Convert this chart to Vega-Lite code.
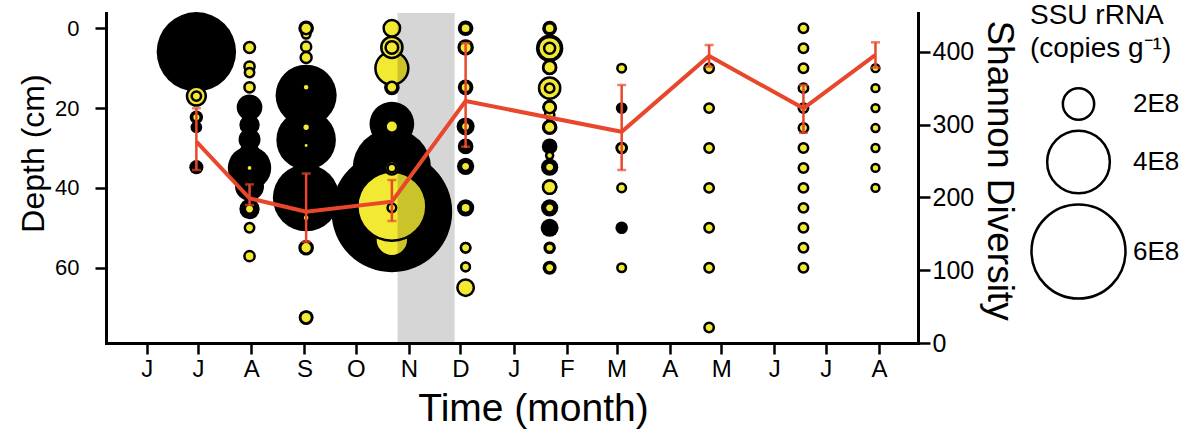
{
  "$schema": "https://vega.github.io/schema/vega-lite/v6.json",
  "width": 812,
  "height": 330,
  "autosize": {"type": "none"},
  "padding": {"left": 106, "top": 13, "right": 261, "bottom": 90},
  "background": "white",
  "config": {
    "view": {"stroke": null},
    "font": "Liberation Sans",
    "axis": {"grid": false, "domainColor": "black", "domainWidth": 3, "tickColor": "black", "tickWidth": 2.5, "labelColor": "black", "titleColor": "black", "labelFont": "Liberation Sans", "titleFont": "Liberation Sans", "titleFontWeight": "normal", "domainCap": "square"}
  },
  "datasets": {
    "bubbles": [
      {"day":29,"depth":5.9,"series":"S1","copies_1e8":5.07},
      {"day":29,"depth":22.3,"series":"S1","copies_1e8":0.85},
      {"day":29,"depth":24.8,"series":"S1","copies_1e8":0.75},
      {"day":29,"depth":34.8,"series":"S1","copies_1e8":0.9},
      {"day":60,"depth":19.8,"series":"S1","copies_1e8":1.64},
      {"day":60,"depth":24.2,"series":"S1","copies_1e8":1.3},
      {"day":60,"depth":27.9,"series":"S1","copies_1e8":1.4},
      {"day":60,"depth":31.5,"series":"S1","copies_1e8":1.4},
      {"day":60,"depth":35,"series":"S1","copies_1e8":2.77},
      {"day":60,"depth":39.6,"series":"S1","copies_1e8":1.85},
      {"day":60,"depth":45.3,"series":"S1","copies_1e8":1.3},
      {"day":93,"depth":0,"series":"S1","copies_1e8":1.0},
      {"day":93,"depth":16.8,"series":"S1","copies_1e8":3.9},
      {"day":93,"depth":28,"series":"S1","copies_1e8":3.8},
      {"day":93,"depth":42.5,"series":"S1","copies_1e8":4.25},
      {"day":93,"depth":55,"series":"S1","copies_1e8":1.0},
      {"day":93,"depth":72.5,"series":"S1","copies_1e8":0.95},
      {"day":143,"depth":14.8,"series":"S1","copies_1e8":1.0},
      {"day":143,"depth":24,"series":"S1","copies_1e8":2.85},
      {"day":143,"depth":35,"series":"S1","copies_1e8":5.0},
      {"day":143,"depth":46,"series":"S1","copies_1e8":7.7},
      {"day":186,"depth":0,"series":"S1","copies_1e8":1.0},
      {"day":186,"depth":4.8,"series":"S1","copies_1e8":1.05},
      {"day":186,"depth":14.8,"series":"S1","copies_1e8":1.0},
      {"day":186,"depth":24.6,"series":"S1","copies_1e8":1.15},
      {"day":186,"depth":29.6,"series":"S1","copies_1e8":1.0},
      {"day":186,"depth":34.6,"series":"S1","copies_1e8":1.1},
      {"day":186,"depth":45,"series":"S1","copies_1e8":1.1},
      {"day":186,"depth":55,"series":"S1","copies_1e8":0.75},
      {"day":186,"depth":59.8,"series":"S1","copies_1e8":0.7},
      {"day":235,"depth":0,"series":"S1","copies_1e8":0.95},
      {"day":235,"depth":5,"series":"S1","copies_1e8":1.75},
      {"day":235,"depth":9.8,"series":"S1","copies_1e8":1.0},
      {"day":235,"depth":19.8,"series":"S1","copies_1e8":0.95},
      {"day":235,"depth":24.8,"series":"S1","copies_1e8":1.0},
      {"day":235,"depth":29.6,"series":"S1","copies_1e8":1.0},
      {"day":235,"depth":34.8,"series":"S1","copies_1e8":1.1},
      {"day":235,"depth":39.8,"series":"S1","copies_1e8":1.0},
      {"day":235,"depth":45,"series":"S1","copies_1e8":1.1},
      {"day":235,"depth":50,"series":"S1","copies_1e8":1.15},
      {"day":235,"depth":55,"series":"S1","copies_1e8":0.8},
      {"day":235,"depth":60,"series":"S1","copies_1e8":0.9},
      {"day":277,"depth":20,"series":"S1","copies_1e8":0.75},
      {"day":277,"depth":30,"series":"S1","copies_1e8":0.8},
      {"day":277,"depth":50,"series":"S1","copies_1e8":0.8},

      {"day":29,"depth":17,"series":"S2","copies_1e8":1.2},
      {"day":29,"depth":17,"series":"S2","copies_1e8":0.6},
      {"day":29,"depth":22.3,"series":"S2","copies_1e8":0.55},
      {"day":60,"depth":4.8,"series":"S2","copies_1e8":0.7},
      {"day":60,"depth":9.6,"series":"S2","copies_1e8":0.65},
      {"day":60,"depth":11.1,"series":"S2","copies_1e8":0.6},
      {"day":60,"depth":14.8,"series":"S2","copies_1e8":0.65},
      {"day":60,"depth":35,"series":"S2","copies_1e8":0.4},
      {"day":60,"depth":45.3,"series":"S2","copies_1e8":0.6},
      {"day":60,"depth":50,"series":"S2","copies_1e8":0.6},
      {"day":60,"depth":57.1,"series":"S2","copies_1e8":0.65},
      {"day":93,"depth":1.5,"series":"S2","copies_1e8":0.55},
      {"day":93,"depth":0,"series":"S2","copies_1e8":0.75},
      {"day":93,"depth":4.6,"series":"S2","copies_1e8":0.65},
      {"day":93,"depth":7.3,"series":"S2","copies_1e8":0.7},
      {"day":93,"depth":14.8,"series":"S2","copies_1e8":0.45},
      {"day":93,"depth":24.8,"series":"S2","copies_1e8":0.5},
      {"day":93,"depth":29.4,"series":"S2","copies_1e8":0.35},
      {"day":93,"depth":47.5,"series":"S2","copies_1e8":0.45},
      {"day":93,"depth":55,"series":"S2","copies_1e8":0.75},
      {"day":93,"depth":72.5,"series":"S2","copies_1e8":0.75},
      {"day":143,"depth":53,"series":"S2","copies_1e8":2.1},
      {"day":143,"depth":44.6,"series":"S2","copies_1e8":4.4},
      {"day":143,"depth":10,"series":"S2","copies_1e8":2.1},
      {"day":143,"depth":4.8,"series":"S2","copies_1e8":1.35},
      {"day":143,"depth":4.8,"series":"S2","copies_1e8":0.8},
      {"day":143,"depth":0,"series":"S2","copies_1e8":1.05},
      {"day":143,"depth":14.8,"series":"S2","copies_1e8":0.7},
      {"day":143,"depth":24.6,"series":"S2","copies_1e8":0.8},
      {"day":143,"depth":35,"series":"S2","copies_1e8":0.85},
      {"day":143,"depth":35,"series":"S2","copies_1e8":0.55},
      {"day":143,"depth":45,"series":"S2","copies_1e8":0.55},
      {"day":186,"depth":0,"series":"S2","copies_1e8":0.65},
      {"day":186,"depth":4.8,"series":"S2","copies_1e8":0.8},
      {"day":186,"depth":14.8,"series":"S2","copies_1e8":0.65},
      {"day":186,"depth":24.6,"series":"S2","copies_1e8":0.6},
      {"day":186,"depth":29.6,"series":"S2","copies_1e8":0.35},
      {"day":186,"depth":34.6,"series":"S2","copies_1e8":0.6},
      {"day":186,"depth":45,"series":"S2","copies_1e8":0.65},
      {"day":186,"depth":55,"series":"S2","copies_1e8":0.6},
      {"day":186,"depth":59.8,"series":"S2","copies_1e8":0.55},
      {"day":186,"depth":65,"series":"S2","copies_1e8":1.05},
      {"day":235,"depth":0,"series":"S2","copies_1e8":0.65},
      {"day":235,"depth":5,"series":"S2","copies_1e8":1.45},
      {"day":235,"depth":5,"series":"S2","copies_1e8":0.7},
      {"day":235,"depth":9.8,"series":"S2","copies_1e8":0.8},
      {"day":235,"depth":15,"series":"S2","copies_1e8":1.35},
      {"day":235,"depth":15,"series":"S2","copies_1e8":0.6},
      {"day":235,"depth":21.7,"series":"S2","copies_1e8":0.6},
      {"day":235,"depth":19.8,"series":"S2","copies_1e8":0.75},
      {"day":235,"depth":24.8,"series":"S2","copies_1e8":0.75},
      {"day":235,"depth":31.9,"series":"S2","copies_1e8":0.45},
      {"day":235,"depth":34.8,"series":"S2","copies_1e8":0.6},
      {"day":235,"depth":39.8,"series":"S2","copies_1e8":0.85},
      {"day":235,"depth":45,"series":"S2","copies_1e8":0.6},
      {"day":235,"depth":55,"series":"S2","copies_1e8":0.55},
      {"day":235,"depth":60,"series":"S2","copies_1e8":0.6},
      {"day":277,"depth":10,"series":"S2","copies_1e8":0.55},
      {"day":277,"depth":30,"series":"S2","copies_1e8":0.6},
      {"day":277,"depth":40,"series":"S2","copies_1e8":0.55},
      {"day":277,"depth":60,"series":"S2","copies_1e8":0.55},
      {"day":328,"depth":10,"series":"S2","copies_1e8":0.6},
      {"day":328,"depth":20,"series":"S2","copies_1e8":0.6},
      {"day":328,"depth":30,"series":"S2","copies_1e8":0.6},
      {"day":328,"depth":40,"series":"S2","copies_1e8":0.6},
      {"day":328,"depth":50,"series":"S2","copies_1e8":0.6},
      {"day":328,"depth":60,"series":"S2","copies_1e8":0.6},
      {"day":328,"depth":75,"series":"S2","copies_1e8":0.6},
      {"day":383,"depth":0,"series":"S2","copies_1e8":0.6},
      {"day":383,"depth":5,"series":"S2","copies_1e8":0.6},
      {"day":383,"depth":10,"series":"S2","copies_1e8":0.6},
      {"day":383,"depth":15,"series":"S2","copies_1e8":0.6},
      {"day":383,"depth":20,"series":"S2","copies_1e8":0.6},
      {"day":383,"depth":25,"series":"S2","copies_1e8":0.6},
      {"day":383,"depth":30,"series":"S2","copies_1e8":0.6},
      {"day":383,"depth":35,"series":"S2","copies_1e8":0.6},
      {"day":383,"depth":40,"series":"S2","copies_1e8":0.6},
      {"day":383,"depth":45,"series":"S2","copies_1e8":0.6},
      {"day":383,"depth":50,"series":"S2","copies_1e8":0.6},
      {"day":383,"depth":55,"series":"S2","copies_1e8":0.6},
      {"day":383,"depth":60,"series":"S2","copies_1e8":0.6},
      {"day":425,"depth":10,"series":"S2","copies_1e8":0.5},
      {"day":425,"depth":15,"series":"S2","copies_1e8":0.5},
      {"day":425,"depth":20,"series":"S2","copies_1e8":0.5},
      {"day":425,"depth":25,"series":"S2","copies_1e8":0.5},
      {"day":425,"depth":30,"series":"S2","copies_1e8":0.5},
      {"day":425,"depth":35,"series":"S2","copies_1e8":0.5},
      {"day":425,"depth":40,"series":"S2","copies_1e8":0.5}
    ],
    "shannon": [
      {"day":29,"shannon":276.7,"lo":237.8,"hi":322.6},
      {"day":60,"shannon":198.9,"lo":189.7,"hi":218},
      {"day":93,"shannon":180.5,"lo":139.2,"hi":233},
      {"day":143,"shannon":194.2,"lo":167.7,"hi":224},
      {"day":186,"shannon":332.6,"lo":269.8,"hi":412},
      {"day":277,"shannon":290.4,"lo":237.8,"hi":354.6},
      {"day":328,"shannon":394.5,"lo":379.4,"hi":409.6},
      {"day":383,"shannon":322.6,"lo":289,"hi":354.6},
      {"day":425,"shannon":395.9,"lo":378.5,"hi":413.3}
    ],
    "band": [{"start":146.3,"end":179.6}]
  },
  "layer": [
    {
      "layer": [
        {
          "data": {"name": "bubbles"},
          "mark": {"type": "point", "shape": "circle", "filled": false, "stroke": "black", "strokeWidth": 2.5, "opacity": 0},
          "encoding": {
            "x": {"field": "day", "type": "quantitative", "scale": {"domain": [-23.7, 449.8], "nice": false, "zero": false},
                  "axis": {"values": [0,30,61,92,122,153,183,214,245,274,305,335,366,396,427], "labelExpr": "['J','J','A','S','O','N','D','J','F','M','A','M','J','J','A'][indexof([0,30,61,92,122,153,183,214,245,274,305,335,366,396,427], datum.value)]", "tickSize": 11, "labelPadding": 3, "labelFontSize": 24, "title": "Time (month)", "titleFontSize": 39, "titlePadding": 8, "titleX": 427}},
            "y": {"field": "depth", "type": "quantitative", "scale": {"domain": [-3.83, 78.87], "reverse": true, "nice": false, "zero": false},
                  "axis": {"values": [0,20,40,60], "tickSize": 11, "labelPadding": 16, "labelFontSize": 22, "title": "Depth (cm)", "titleFontSize": 32, "titlePadding": 4, "titleY": 140}},
            "size": {"field": "copies_1e8", "type": "quantitative", "scale": {"type": "pow", "exponent": 2, "domain": [0, 6], "range": [0, 8836], "clamp": false},
                     "legend": {"orient": "none", "legendX": 924, "legendY": -11, "padding": 0, "title": ["SSU rRNA", "(copies g⁻¹)"], "titleFontSize": 28, "titleFontWeight": "normal", "titleFont": "Liberation Sans", "titleColor": "black", "titleLineHeight": 33, "titlePadding": 24, "labelFontSize": 26, "labelFont": "Liberation Sans", "labelColor": "black", "labelOffset": 6, "rowPadding": 0, "values": [2, 4, 6], "labelExpr": "datum.value + 'E8'", "symbolType": "circle", "symbolStrokeWidth": 2.5, "symbolStrokeColor": "black", "symbolFillColor": "transparent", "symbolOpacity": 1}}
          }
        },
        {
          "data": {"name": "bubbles"},
          "transform": [{"filter": "datum.series === 'S1'"}],
          "mark": {"type": "circle", "color": "black", "opacity": 1},
          "encoding": {
            "x": {"field": "day", "type": "quantitative", "title": "Time (month)"},
            "y": {"field": "depth", "type": "quantitative", "title": "Depth (cm)"},
            "size": {"field": "copies_1e8", "type": "quantitative", "legend": null}
          }
        },
        {
          "data": {"name": "bubbles"},
          "transform": [{"filter": "datum.series === 'S2'"}],
          "mark": {"type": "circle", "fill": "#f2e933", "stroke": "black", "strokeWidth": 2.5, "opacity": 1},
          "encoding": {
            "x": {"field": "day", "type": "quantitative", "title": "Time (month)"},
            "y": {"field": "depth", "type": "quantitative", "title": "Depth (cm)"},
            "size": {"field": "copies_1e8", "type": "quantitative", "legend": null}
          }
        },
        {
          "data": {"name": "band"},
          "mark": {"type": "rect", "color": "black", "opacity": 0.16},
          "encoding": {
            "x": {"field": "start", "type": "quantitative", "title": "Time (month)"},
            "x2": {"field": "end"}
          }
        }
      ]
    },
    {
      "data": {"name": "shannon"},
      "layer": [
        {
          "mark": {"type": "line", "color": "#e8472b", "strokeWidth": 4},
          "encoding": {
            "x": {"field": "day", "type": "quantitative", "title": "Time (month)"},
            "y": {"field": "shannon", "type": "quantitative", "scale": {"domain": [0, 453.6], "nice": false, "zero": true},
                  "axis": {"orient": "right", "values": [0,100,200,300,400], "tickSize": 12, "labelPadding": 2, "labelFontSize": 25, "title": "Shannon Diversity", "titleFontSize": 37, "titlePadding": 6, "titleY": 157}}
          }
        },
        {
          "mark": {"type": "errorbar", "color": "#e8472b", "thickness": 2.5, "ticks": {"size": 9}},
          "encoding": {
            "x": {"field": "day", "type": "quantitative", "title": "Time (month)"},
            "y": {"field": "lo", "type": "quantitative", "title": "Shannon Diversity"},
            "y2": {"field": "hi"}
          }
        }
      ]
    }
  ],
  "resolve": {"scale": {"y": "independent"}}
}
